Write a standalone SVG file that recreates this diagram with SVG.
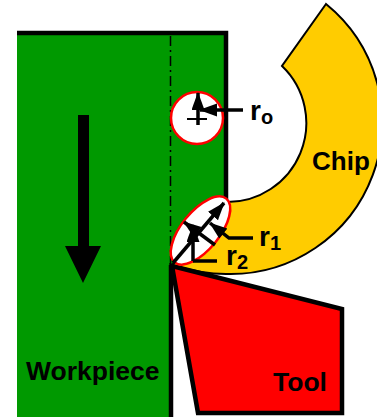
<svg xmlns="http://www.w3.org/2000/svg" width="377" height="417" viewBox="0 0 377 417">
<defs>
<marker id="ah" markerUnits="userSpaceOnUse" markerWidth="20" markerHeight="14" refX="17" refY="6.500" orient="auto"><path d="M0 0L18 6.500L0 13Z" fill="#000"/></marker>
</defs>
<style>
.lbl{font-family:"Liberation Sans",Arial,sans-serif;font-weight:bold;fill:#000}
.ln{stroke:#000;stroke-width:3.500;fill:none}
.thin{stroke:#000;stroke-width:2;fill:none}
.ar{stroke:#000;stroke-width:3.500;fill:none;marker-end:url(#ah)}
</style>
<rect width="377" height="417" fill="#fff"/>
<g id="workpiece">
<path d="M17 33H226V202L172 265V417H17Z" fill="#009900"/>
<path d="M17 33H226V202M171 265V417" fill="none" stroke="#000" stroke-width="4.500"/>
<path d="M170.500 36V265" fill="none" stroke="#000" stroke-width="1.500" stroke-dasharray="10 4 2 4"/>
<text class="lbl" x="26" y="380" font-size="26.500">Workpiece</text>
</g>
<g id="feed-arrow"><path d="M78 115H89V246H101L83 283L65 246H78Z" fill="#000"/></g>
<g id="chip">
<path d="M326 4L282 66A79 79 0 0 1 226 202L172 265C195 272 210 274 226 274A152 152 0 0 0 326 4Z" fill="#ffcc00" stroke="#000" stroke-width="2"/>
<text class="lbl" x="312" y="170" font-size="26">Chip</text>
</g>
<g id="tool">
<path d="M172 266L342 309V413H198Z" fill="#ff0000" stroke="#000" stroke-width="4.500" stroke-linejoin="miter"/>
<text class="lbl" x="273" y="391" font-size="26.500">Tool</text>
</g>
<g id="circle-ro"><circle cx="197" cy="118" r="26" fill="#fff" stroke="#ff0000" stroke-width="2.500"/>
<text class="lbl" x="250" y="120" font-size="28">r<tspan font-size="20" dy="4">o</tspan></text></g>
<g id="ellipse-r"><ellipse cx="200.500" cy="230.500" rx="41" ry="19" transform="rotate(-51 200.500 230.500)" fill="#fff" stroke="#ff0000" stroke-width="2.500"/>
<text class="lbl" x="259" y="246" font-size="28">r<tspan font-size="20" dy="4">1</tspan></text>
<text class="lbl" x="226" y="265" font-size="28">r<tspan font-size="20" dy="4">2</tspan></text></g>
<g id="connectors">
<path class="ar" d="M198 125V93"/>
<path class="thin" d="M187 119H207M198 110V125"/>
<path class="ar" d="M243 110H200"/>
<path class="ar" d="M173 263L224 203"/>
<path class="ar" d="M215 245L184 222"/>
<path class="ar" d="M253 238H229L210 223"/>
<path class="ar" d="M193 261V225"/>
<path class="ln" d="M193 261H217"/>
</g>
</svg>
